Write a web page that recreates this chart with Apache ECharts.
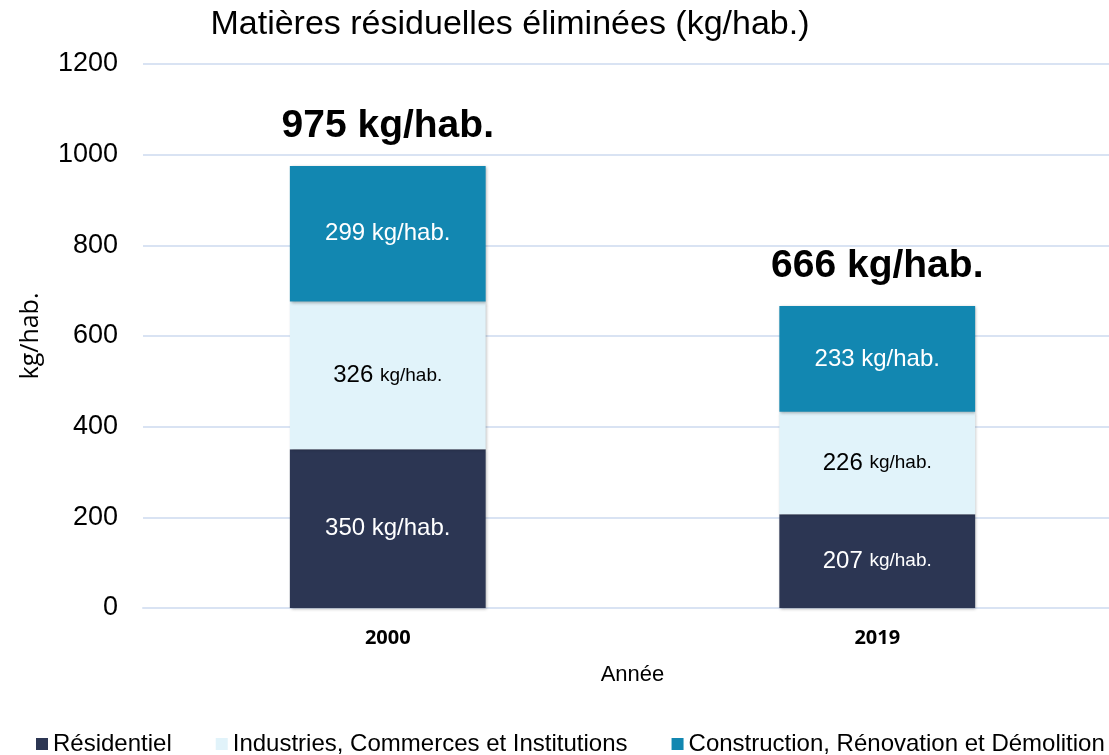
<!DOCTYPE html>
<html>
<head>
<meta charset="utf-8">
<script src="https://cdn.jsdelivr.net/npm/echarts@6/dist/echarts.min.js"></script>
<style>
  html, body { margin: 0; padding: 0; background: #fff; }
  #chart { width: 1109px; height: 755px; }
</style>
</head>
<body>
<div id="chart"></div>
<script>
// données
var annees = ['2000', '2019'];
var residentiel = [350, 207];
var ici = [326, 226];
var crd = [299, 233];
var totaux = [975, 666];
var yTicks = [0, 200, 400, 600, 800, 1000, 1200];

// étiquettes où l'unité est plus petite
var petiteUnite = { ici: [0, 1], residentiel: [1] };

var chart = echarts.init(document.getElementById('chart'));

function etiquette(key) {
    return function (p) {
        var cls = (petiteUnite[key] || []).indexOf(p.dataIndex) >= 0 ? 's' : 'n';
        return '{n|' + p.value + ' }{' + cls + '|kg/hab.}';
    };
}

function serie(nom, key, data, couleur, texte) {
    return {
        name: nom,
        type: 'bar',
        stack: 'total',
        barWidth: '40%',
        data: data,
        itemStyle: {
            color: couleur,
            shadowColor: 'rgba(0,0,0,0.3)',
            shadowBlur: 3,
            shadowOffsetX: 1,
            shadowOffsetY: 1
        },
        label: {
            show: true,
            position: 'inside',
            formatter: etiquette(key),
            rich: {
                n: { fontSize: 24, color: texte, fontFamily: 'Liberation Sans' },
                s: { fontSize: 19, color: texte, fontFamily: 'Liberation Sans' }
            }
        }
    };
}

chart.setOption({
    animation: false,
    title: {
        text: 'Matières résiduelles éliminées (kg/hab.)',
        left: 505,
        textAlign: 'center',
        top: 3,
        textStyle: { fontFamily: 'Liberation Sans', fontSize: 34, fontWeight: 'normal', color: '#000' }
    },
    legend: {
        data: ['Résidentiel', 'Industries, Commerces et Institutions', 'Construction, Rénovation et Démolition'],
        left: 36,
        top: 732,
        width: 1073,
        padding: 0,
        icon: 'rect',
        itemWidth: 12,
        itemHeight: 12,
        itemGap: 44,
        textStyle: { fontFamily: 'Liberation Sans', fontSize: 24, color: '#000' }
    },
    grid: { left: 143, width: 979, top: 64, bottom: 147, outerBoundsMode: 'none' },
    xAxis: {
        type: 'category',
        data: annees,
        name: 'Année',
        nameLocation: 'middle',
        nameGap: 56,
        nameTextStyle: { fontFamily: 'Liberation Sans', fontSize: 22, color: '#000' },
        axisLine: { lineStyle: { color: '#D9E3F3', width: 2 } },
        axisTick: { show: false },
        axisLabel: { fontFamily: 'Open Sans', fontWeight: 'bold', fontSize: 20, color: '#000', margin: 20 }
    },
    yAxis: {
        type: 'value',
        min: yTicks[0],
        max: yTicks[yTicks.length - 1],
        interval: yTicks[1] - yTicks[0],
        name: 'kg/hab.',
        nameLocation: 'middle',
        nameGap: 100,
        nameRotate: 90,
        nameTextStyle: { fontFamily: 'Open Sans', fontSize: 25, color: '#000' },
        axisLabel: {
            fontFamily: 'Liberation Sans', fontSize: 27, color: '#000', margin: 25,
            formatter: function (v) { return String(v); }
        },
        splitLine: { lineStyle: { color: '#D9E3F3', width: 2 } }
    },
    series: [
        serie('Résidentiel', 'residentiel', residentiel, '#2C3653', '#fff'),
        serie('Industries, Commerces et Institutions', 'ici', ici, '#E1F3FA', '#000'),
        serie('Construction, Rénovation et Démolition', 'crd', crd, '#1287B1', '#fff'),
        {
            name: 'Total',
            type: 'bar',
            stack: 'total',
            barWidth: '40%',
            data: totaux.map(function () { return 0; }),
            itemStyle: { color: 'transparent' },
            label: {
                show: true,
                position: 'top',
                distance: 20,
                formatter: function (p) { return totaux[p.dataIndex] + ' kg/hab.'; },
                fontFamily: 'Liberation Sans',
                fontWeight: 'bold',
                fontSize: 39,
                color: '#000'
            }
        }
    ]
});
</script>
</body>
</html>
